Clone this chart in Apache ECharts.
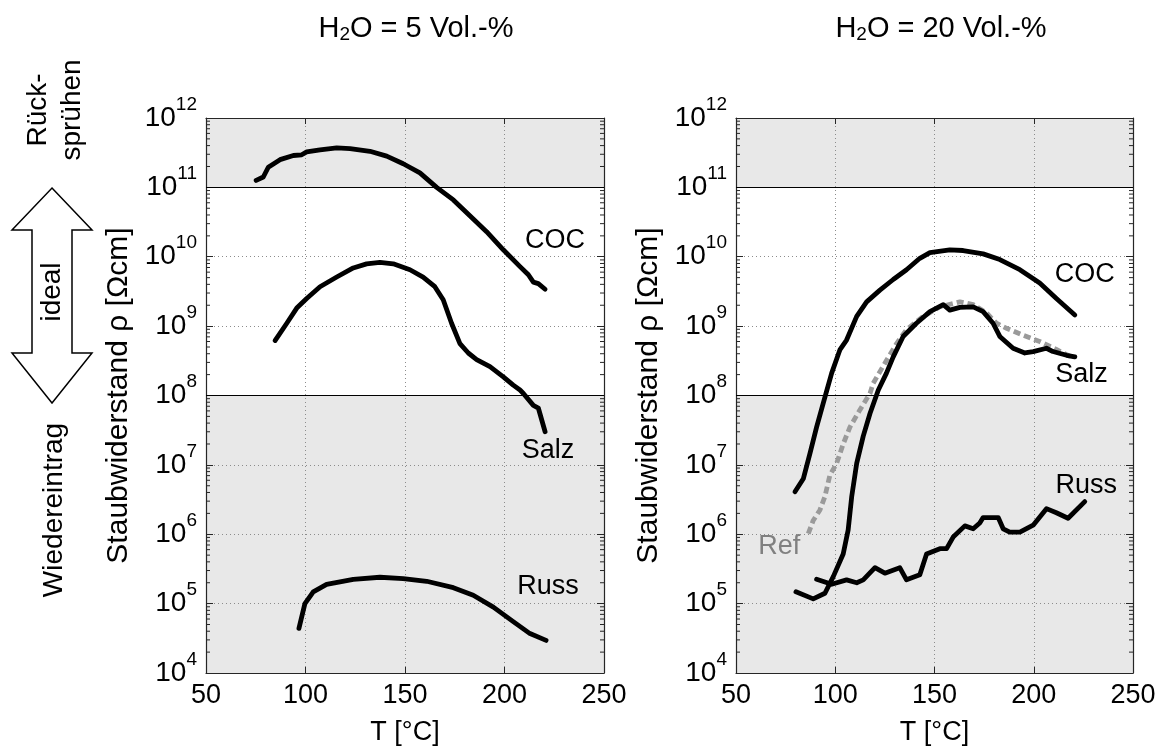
<!DOCTYPE html>
<html><head><meta charset="utf-8">
<script src="https://cdn.jsdelivr.net/npm/echarts@6.0.0/dist/echarts.min.js"></script>
<style>html,body{margin:0;padding:0;background:#fff}#c{width:1165px;height:747px}</style>
</head><body><div id="c"></div>
<script>
// ---------- axis ticks ----------
const xTicks = [50, 100, 150, 200, 250];
const yExpMin = 4, yExpMax = 12;
const shadeHigh = [1e11, 1e12];   // Rücksprühen
const shadeLow = [1e4, 1e8];      // Wiedereintrag
const minorMantissas = [2, 3, 4, 5, 6, 7, 8, 9];

// ---------- H2O = 5 Vol.-% ----------
const coc5T   = [75.2, 78.8, 81.3, 87.2, 93.9, 98.1, 100.6, 107.3, 115.7, 122.4, 132.4, 140.8, 149.1, 157.5, 165.9, 174.3, 182.6, 191.0, 199.4, 207.8, 212.0, 214.5, 217.0, 220.4];
const coc5Rho = [1.26e11, 1.41e11, 1.95e11, 2.51e11, 2.88e11, 2.95e11, 3.24e11, 3.47e11, 3.72e11, 3.63e11, 3.31e11, 2.82e11, 2.19e11, 1.62e11, 1.0e11, 6.6e10, 3.9e10, 2.3e10, 1.26e10, 7.2e9, 5.5e9, 4.3e9, 4.1e9, 3.4e9];
const salz5T   = [84.7, 90.6, 95.6, 100.6, 107.3, 115.7, 124.0, 130.7, 137.4, 144.1, 152.5, 159.1, 165.0, 169.2, 173.4, 177.6, 181.8, 186.0, 192.7, 199.4, 204.4, 207.8, 209.5, 214.5, 217.0, 220.4];
const salz5Rho = [6.2e8, 1.1e9, 1.82e9, 2.5e9, 3.7e9, 5.1e9, 6.9e9, 7.9e9, 8.3e9, 7.9e9, 6.5e9, 5.1e9, 3.7e9, 2.4e9, 1.1e9, 5.6e8, 4.1e8, 3.3e8, 2.6e8, 1.86e8, 1.41e8, 1.2e8, 1.07e8, 7.2e7, 6.6e7, 3.0e7];
const russ5T   = [96.7, 99.7, 103.9, 110.6, 124.0, 137.4, 149.1, 160.9, 174.3, 184.3, 194.4, 204.4, 212.8, 220.9];
const russ5Rho = [4.4e4, 1.0e5, 1.48e5, 1.9e5, 2.24e5, 2.4e5, 2.3e5, 2.1e5, 1.7e5, 1.32e5, 8.9e4, 5.5e4, 3.7e4, 2.95e4];

// ---------- H2O = 20 Vol.-% ----------
const coc20T   = [79.7, 83.9, 87.3, 90.6, 94.8, 98.2, 102.4, 105.7, 110.8, 115.8, 122.5, 129.2, 135.9, 142.6, 147.7, 157.7, 164.4, 174.5, 182.9, 193.0, 203.0, 211.4, 220.7];
const coc20Rho = [4.1e6, 6.3e6, 1.48e7, 3.5e7, 9.5e7, 2.1e8, 4.6e8, 6.3e8, 1.38e9, 2.24e9, 3.3e9, 4.7e9, 6.5e9, 9.5e9, 1.15e10, 1.26e10, 1.23e10, 1.1e10, 9.1e9, 6.5e9, 4.2e9, 2.5e9, 1.45e9];
const salz20T   = [80.2, 88.9, 94.8, 99.0, 104.0, 106.5, 108.3, 110.8, 114.1, 117.5, 121.7, 125.8, 129.2, 134.2, 140.9, 147.7, 154.4, 157.7, 162.8, 169.5, 174.5, 179.5, 182.9, 189.6, 195.5, 199.7, 206.4, 209.7, 216.5, 220.7];
const salz20Rho = [1.48e5, 1.17e5, 1.41e5, 2.45e5, 5.2e5, 1.15e6, 3.5e6, 1.05e7, 2.6e7, 5.5e7, 1.2e8, 2.1e8, 3.6e8, 7.1e8, 1.1e9, 1.62e9, 2.04e9, 1.7e9, 1.86e9, 1.9e9, 1.62e9, 1.1e9, 7.1e8, 4.8e8, 4.1e8, 4.3e8, 4.8e8, 4.3e8, 3.8e8, 3.6e8];
const ref20T   = [86.4, 88.9, 92.3, 94.8, 97.3, 100.7, 104.0, 107.4, 112.4, 117.5, 119.1, 125.8, 130.9, 135.9, 144.3, 152.7, 162.8, 169.5, 176.2, 181.2, 186.3, 194.6, 203.0, 211.4, 219.8];
const ref20Rho = [1.02e6, 1.58e6, 2.24e6, 3.5e6, 7.1e6, 1.05e7, 2.0e7, 3.5e7, 6.2e7, 1.07e8, 1.5e8, 3.2e8, 5.6e8, 8.9e8, 1.38e9, 1.9e9, 2.24e9, 2.04e9, 1.55e9, 1.1e9, 9.3e8, 7.4e8, 6.0e8, 4.6e8, 3.5e8];
const russ20T   = [90.6, 98.2, 105.7, 110.8, 114.1, 120.0, 125.0, 132.5, 135.9, 142.6, 146.0, 152.7, 156.1, 159.4, 165.3, 169.5, 172.8, 174.5, 182.1, 184.6, 187.9, 193.0, 199.7, 206.4, 211.4, 217.3, 225.7];
const russ20Rho = [2.24e5, 1.9e5, 2.2e5, 2.0e5, 2.2e5, 3.3e5, 2.75e5, 3.3e5, 2.2e5, 2.6e5, 5.2e5, 6.2e5, 6.2e5, 9.1e5, 1.32e6, 1.2e6, 1.45e6, 1.74e6, 1.74e6, 1.2e6, 1.07e6, 1.07e6, 1.35e6, 2.34e6, 2.04e6, 1.7e6, 2.95e6];

// ---------- curve labels [T, rho] ----------
const labelNames5  = ['COC', 'Salz', 'Russ'];
const labelAt5     = [[225.4, 1.74e10], [221.9, 1.6e7], [221.9, 1.74e5]];
const labelNames20 = ['COC', 'Salz', 'Russ', 'Ref'];
const labelAt20    = [[225.7, 5.5e9], [224.0, 2.0e8], [226.5, 5.1e6], [71.8, 6.6e5]];

const titles = ['H{sub|2}O = 5 Vol.-%', 'H{sub|2}O = 20 Vol.-%'];

// ---------- build ----------
const FONT = '"Liberation Sans", Arial, Helvetica, sans-serif';
const FS = 27;
const AX = '#262626';
const zip = (a, b) => a.map((v, i) => [v, b[i]]);

const minorTickValues = [];
for (let e = yExpMin; e < yExpMax; e++) minorMantissas.forEach(m => minorTickValues.push([50, m * Math.pow(10, e)]));

const grids = [
  { left: 206, top: 118, width: 398, height: 555 },
  { left: 736, top: 118, width: 397, height: 555 }
];

const xAxes = [], yAxes = [], series = [];
grids.forEach((g, gi) => {
  xAxes.push({
    type: 'value', gridIndex: gi, min: xTicks[0], max: xTicks[xTicks.length - 1], interval: 50,
    axisLine: { show: true, onZero: false, lineStyle: { color: AX, width: 1.2 } },
    axisTick: { show: true, inside: true, length: 6, lineStyle: { color: AX } },
    axisLabel: { show: true, fontSize: FS, color: '#000', fontFamily: FONT, margin: 9 },
    splitLine: { show: true, lineStyle: { type: [1, 3], color: '#8c8c8c', width: 1 } },
    name: 'T [°C]', nameLocation: 'middle', nameGap: 46,
    nameTextStyle: { fontSize: FS, color: '#000', fontFamily: FONT }
  });
  xAxes.push({
    type: 'value', gridIndex: gi, position: 'top', min: xTicks[0], max: xTicks[xTicks.length - 1], interval: 50,
    axisLine: { show: true, onZero: false, lineStyle: { color: AX, width: 1.2 } },
    axisTick: { show: true, inside: true, length: 6, lineStyle: { color: AX } },
    axisLabel: { show: false }, splitLine: { show: false }
  });
  yAxes.push({
    type: 'log', logBase: 10, gridIndex: gi, min: Math.pow(10, yExpMin), max: Math.pow(10, yExpMax), splitNumber: 8,
    axisLine: { show: true, onZero: false, lineStyle: { color: AX, width: 1.2 } },
    axisTick: { show: true, inside: true, length: 7, lineStyle: { color: AX } },
    axisLabel: {
      show: true, margin: 9, color: '#000', fontFamily: FONT,
      formatter: v => '{b|10}{s|' + Math.round(Math.log10(v)) + '}',
      rich: {
        b: { fontSize: 28, lineHeight: 46, fontFamily: FONT, color: '#000' },
        s: { fontSize: 19, verticalAlign: 'top', fontFamily: FONT, color: '#000' }
      }
    },
    splitLine: { show: true, lineStyle: { type: [1, 3], color: '#8c8c8c', width: 1 } },
    name: 'Staubwiderstand ρ [Ωcm]', nameLocation: 'middle', nameGap: 72, nameRotate: 90,
    nameTextStyle: { fontSize: 30, color: '#000', fontFamily: FONT }
  });
  yAxes.push({
    type: 'log', logBase: 10, gridIndex: gi, position: 'right', min: Math.pow(10, yExpMin), max: Math.pow(10, yExpMax), splitNumber: 8,
    axisLine: { show: true, onZero: false, lineStyle: { color: AX, width: 1.2 } },
    axisTick: { show: true, inside: true, length: 7, lineStyle: { color: AX } },
    axisLabel: { show: false }, splitLine: { show: false }
  });
  const xi = gi * 2, yi = gi * 2;
  // shaded zones (below grid lines)
  series.push({
    type: 'line', xAxisIndex: xi, yAxisIndex: yi, data: [], z: -1, silent: true,
    markArea: {
      silent: true, z: -1,
      itemStyle: { color: '#e8e8e8', borderWidth: 0 },
      data: [[{ yAxis: shadeHigh[0] }, { yAxis: shadeHigh[1] }], [{ yAxis: shadeLow[0] }, { yAxis: shadeLow[1] }]]
    }
  });
  // boundary lines + minor ticks
  series.push({
    type: 'custom', xAxisIndex: xi, yAxisIndex: yi, data: minorTickValues, silent: true, z: 3,
    renderItem: (params, api) => {
      const v = api.value(1);
      const pL = api.coord([xTicks[0], v]);
      const pR = api.coord([xTicks[xTicks.length - 1], v]);
      return { type: 'group', children: [
        { type: 'line', shape: { x1: pL[0], y1: pL[1], x2: pL[0] + 4, y2: pL[1] }, style: { stroke: AX, lineWidth: 1 } },
        { type: 'line', shape: { x1: pR[0] - 4, y1: pR[1], x2: pR[0], y2: pR[1] }, style: { stroke: AX, lineWidth: 1 } }
      ] };
    },
    markLine: {
      silent: true, symbol: 'none', label: { show: false },
      lineStyle: { color: '#000', width: 1.2, type: 'solid' },
      data: [{ yAxis: shadeHigh[0] }, { yAxis: shadeLow[1] }]
    }
  });
});

const lineStyleBlack = { color: '#000', width: 4.8, cap: 'round', join: 'round' };
function curve(name, gi, T, R, style) {
  return { name, type: 'line', xAxisIndex: gi * 2, yAxisIndex: gi * 2, data: zip(T, R),
    showSymbol: false, symbol: 'none', smooth: false, z: 5, silent: true,
    lineStyle: style || lineStyleBlack };
}
series.push(curve('COC 5', 0, coc5T, coc5Rho));
series.push(curve('Salz 5', 0, salz5T, salz5Rho));
series.push(curve('Russ 5', 0, russ5T, russ5Rho));
series.push(curve('Ref 20', 1, ref20T, ref20Rho, { color: '#9a9a9a', width: 4.8, type: [7, 4], cap: 'butt' }));
series.push(curve('COC 20', 1, coc20T, coc20Rho));
series.push(curve('Salz 20', 1, salz20T, salz20Rho));
series.push(curve('Russ 20', 1, russ20T, russ20Rho));

// curve labels as markPoints
function labelSeries(gi, names, pos) {
  return { type: 'line', xAxisIndex: gi * 2, yAxisIndex: gi * 2, data: [], silent: true, z: 6,
    markPoint: { silent: true, symbol: 'circle', symbolSize: 0,
      data: names.map((n, i) => ({ coord: pos[i], label: { show: true, position: 'inside', formatter: n,
        fontSize: FS, fontFamily: FONT, color: n === 'Ref' ? '#808080' : '#000' } })) } };
}
series.push(labelSeries(0, labelNames5, labelAt5));
series.push(labelSeries(1, labelNames20, labelAt20));

const titleRich = { sub: { fontSize: 19, verticalAlign: 'bottom', fontFamily: FONT, fill: '#000', color: '#000' } };
const option = {
  animation: false,
  backgroundColor: '#fff',
  textStyle: { fontFamily: FONT },
  grid: grids.map(g => Object.assign({ outerBoundsMode: 'none', containLabel: false }, g)),
  xAxis: xAxes,
  yAxis: yAxes,
  series,
  graphic: [
    { type: 'text', x: 416, y: 29, style: { text: titles[0], fontSize: 29, lineHeight: 31, fontFamily: FONT, fill: '#000', align: 'center', verticalAlign: 'middle', rich: titleRich } },
    { type: 'text', x: 941, y: 29, style: { text: titles[1], fontSize: 29, lineHeight: 31, fontFamily: FONT, fill: '#000', align: 'center', verticalAlign: 'middle', rich: titleRich } },
    { type: 'polygon', shape: { points: [[52, 188], [92, 230], [72, 230], [72, 353], [92, 353], [52, 403], [12, 353], [32, 353], [32, 230], [12, 230]] },
      style: { fill: '#fff', stroke: '#000', lineWidth: 1.5 } },
    { type: 'text', x: 52, y: 292, rotation: Math.PI / 2, style: { text: 'ideal', fontSize: 28, fontFamily: FONT, fill: '#000', align: 'center', verticalAlign: 'middle' } },
    { type: 'text', x: 55, y: 110, rotation: Math.PI / 2, style: { text: 'Rück-\nsprühen', fontSize: 28, lineHeight: 34, fontFamily: FONT, fill: '#000', align: 'center', verticalAlign: 'middle' } },
    { type: 'text', x: 54, y: 510, rotation: Math.PI / 2, style: { text: 'Wiedereintrag', fontSize: 28, fontFamily: FONT, fill: '#000', align: 'center', verticalAlign: 'middle' } }
  ]
};
const chart = echarts.init(document.getElementById('c'), null, { renderer: 'canvas' });
chart.setOption(option);
</script></body></html>
